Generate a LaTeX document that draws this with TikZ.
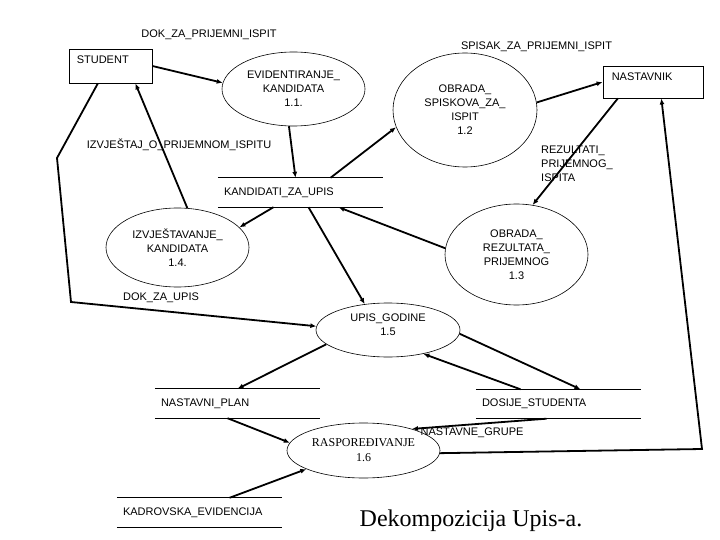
\documentclass[tikz,border=0pt]{standalone}
\usepackage{fontspec}
\setmainfont{Liberation Serif}
\setsansfont{Liberation Sans}
\usetikzlibrary{shapes.geometric,arrows.meta}
\begin{document}
\begin{tikzpicture}[x=1pt,y=-1pt]
\tikzset{
  sf/.style={font=\sffamily\fontsize{11}{14}\selectfont},
  lbl/.style={sf, inner sep=0pt},
  proc/.style={ellipse, draw, line width=0.6pt, inner sep=0pt, align=center, sf},
  entity/.style={rectangle, draw, line width=0.8pt, inner sep=0pt},
  store/.style={rectangle, inner xsep=6pt, inner ysep=0pt, minimum height=29pt, text width=153pt, align=left, sf},
  storeline/.style={line width=0.8pt},
  flow/.style={line width=1.8pt, -{Latex[length=6pt,width=5pt]}},
}
\fill[white] (0,0) rectangle (720,540);
\useasboundingbox (0,0) rectangle (720,540);

% external entities
\node[entity, minimum width=83pt, minimum height=34pt,
  label={[lbl, anchor=north west, xshift=8pt, yshift=-7pt]north west:STUDENT}] (st) at (110.5,66) {};
\node[entity, minimum width=100pt, minimum height=32pt,
  label={[lbl, anchor=north west, xshift=9pt, yshift=-7pt]north west:NASTAVNIK}] (na) at (653,82) {};

% processes
\node[proc, minimum width=143pt, minimum height=74pt] (p11) at (293.5,89) {EVIDENTIRANJE\_\\KANDIDATA\\1.1.};
\node[proc, minimum width=144pt, minimum height=114pt] (p12) at (465,110) {OBRADA\_\\SPISKOVA\_ZA\_\\ISPIT\\1.2};
\node[proc, minimum width=143pt, minimum height=101pt] (p13) at (516.5,254.5) {OBRADA\_\\REZULTATA\_\\PRIJEMNOG\\1.3};
\node[proc, minimum width=143pt, minimum height=79pt] (p14) at (177.5,247.5) {IZVJEŠTAVANJE\_\\KANDIDATA\\1.4.};
\node[proc, minimum width=144pt, minimum height=54pt, text depth=10pt] (p15) at (388,330) {UPIS\_GODINE\\1.5};
\node[proc, minimum width=153pt, minimum height=55pt, font=\rmfamily\fontsize{12}{15}\selectfont] (p16) at (363.5,450.5) {RASPOREĐIVANJE\\1.6};

% data stores
\node[store] (ks) at (300.5,192.5) {KANDIDATI\_ZA\_UPIS};
\node[store] (np) at (237.5,403.5) {NASTAVNI\_PLAN};
\node[store] (ds) at (558.5,404) {DOSIJE\_STUDENTA};
\node[store] (ke) at (199.5,512.5) {KADROVSKA\_EVIDENCIJA};
\foreach \s in {ks,np,ds,ke}{
  \draw[storeline] (\s.north west) -- (\s.north east);
  \draw[storeline] (\s.south west) -- (\s.south east);
}

% flow labels
\node[lbl] (ldok) at (209,35) {DOK\_ZA\_PRIJEMNI\_ISPIT};
\node[lbl] (lspis) at (536.5,47) {SPISAK\_ZA\_PRIJEMNI\_ISPIT};
\node[lbl] (lizv) at (179,145) {IZVJEŠTAJ\_O\_PRIJEMNOM\_ISPITU};
\node[lbl, anchor=west, align=left] (lrez) at (541,164) {REZULTATI\_\\PRIJEMNOG\_\\ISPITA};
\node[lbl] (ldu) at (161,298) {DOK\_ZA\_UPIS};
\node[lbl] (lng) at (472,433) {NASTAVNE\_GRUPE};

% title
\node[anchor=base, font=\rmfamily\fontsize{24}{28}\selectfont, inner sep=0pt] (title) at (471,526) {Dekompozicija Upis-a.};

% corner points of bent flows
\coordinate (c1) at (57,158);
\coordinate (c2) at (71,302);
\coordinate (c3) at (702,449);

% flows
\draw[flow] (st.east) -- (p11.175);
\draw[flow] (p14.76) -- (st.-35);
\draw[flow] (st.-126) -- (c1) -- (c2) -- (p15.177);
\draw[flow] (p11.263) -- ([xshift=-5pt]ks.north);
\draw[flow] ([xshift=30pt]ks.north) -- (p12.194);
\draw[flow] (p12.6) -- (na.west);
\draw[flow] (na.-155) -- (p13.72);
\draw[flow] (p13.175) -- ([xshift=38pt]ks.south);
\draw[flow] ([xshift=-27pt]ks.south) -- (p14.18);
\draw[flow] ([xshift=8pt]ks.south) -- (p15.132);
\draw[flow] (p15.193) -- (np.north);
\draw[flow] (p15.-3) -- ([xshift=22pt]ds.north);
\draw[flow] ([xshift=-38pt]ds.north) -- (p15.-34);
\draw[flow] ([xshift=-12pt]ds.south) -- (p16.24);
\draw[flow] (p16.-2) -- (c3) -- (na.-63);
\draw[flow] ([xshift=-10pt]np.south) -- (p16.174);
\draw[flow] ([xshift=30pt]ke.north) -- (p16.198);
\end{tikzpicture}
\end{document}
